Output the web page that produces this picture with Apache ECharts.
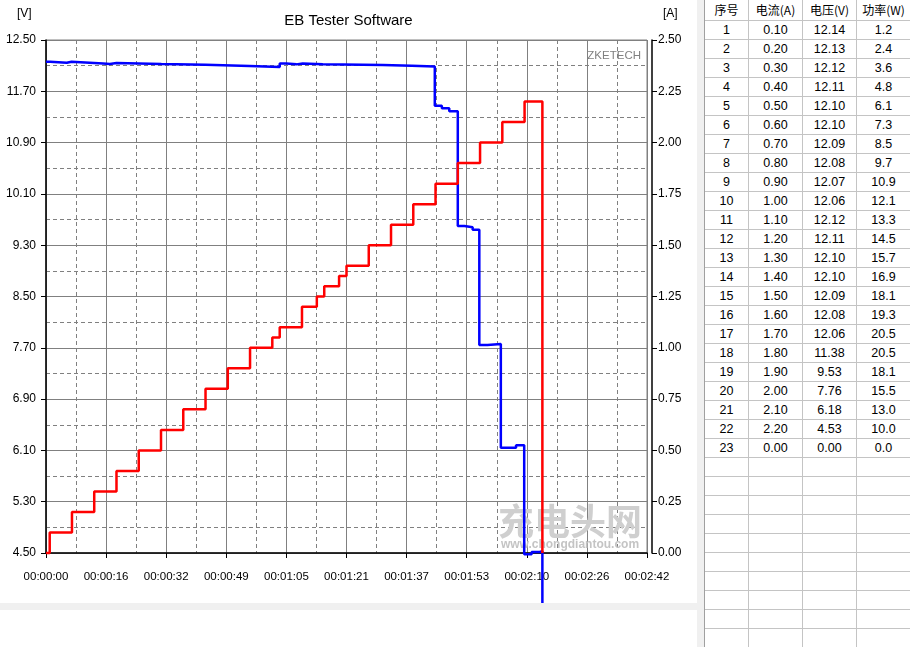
<!DOCTYPE html>
<html>
<head>
<meta charset="utf-8">
<script src="https://cdn.jsdelivr.net/npm/echarts@6/dist/echarts.min.js"></script>
<style>
html,body{margin:0;padding:0;background:#fff;width:910px;height:647px;overflow:hidden;}
#chart{position:absolute;left:0;top:0;width:697px;height:603px;}
#hband{position:absolute;left:0;top:603px;width:697px;height:7px;background:#f0f0f0;}
#vband{position:absolute;left:697px;top:0;width:7px;height:647px;background:#f0f0f0;}
#tbl{position:absolute;left:704px;top:0;width:206px;height:647px;border-left:1px solid #a0a0a0;overflow:hidden;background:#fff;}
.row{display:flex;height:19px;box-sizing:border-box;border-bottom:1px solid #c4c4c4;}
.row.h{height:21px;}
.c{box-sizing:border-box;border-right:1px solid #c4c4c4;text-align:center;font-family:'Liberation Sans',Arial,sans-serif;font-size:12.5px;line-height:18px;color:#000;overflow:hidden;white-space:nowrap;}
.row.h .c{line-height:20px;font-family:'Noto Sans CJK SC','Liberation Sans',sans-serif;font-size:12px;}
.c0{width:44px;}.c1{width:54px;}.c2{width:54px;}.c3{width:54px;}
</style>
</head>
<body>
<div id="chart"></div>
<div id="hband"></div>
<div id="vband"></div>
<div id="tbl"></div>
<script>
// ---- chart data ----
const timeTickLabels = ['00:00:00','00:00:16','00:00:32','00:00:49','00:01:05','00:01:21','00:01:37','00:01:53','00:02:10','00:02:26','00:02:42'];
const timeV = [0, 1.1, 5.6, 6.9, 15.4, 17.2, 19, 31.1, 43, 54.9, 63, 64.8, 67.5, 69.2, 74.6, 90.8, 98.6, 104.8, 106.7, 108.7, 111, 112.8, 115, 116.8, 119, 122.6, 126.7, 128.9, 130.9, 133.1, 133.8];
const volts = [12.16, 12.145, 12.16, 12.135, 12.125, 12.14, 12.125, 12.115, 12.095, 12.08, 12.135, 12.12, 12.135, 12.12, 12.11, 12.10, 12.085, 11.475, 11.435, 11.39, 9.60, 9.58, 9.54, 7.745, 7.76, 6.14, 6.18, 4.48, 4.515, 4.53, 0];
const timeA = [0, 1, 7, 13, 19, 25, 31, 37, 43, 49, 55, 61, 63, 69, 73, 75, 79, 81, 87, 93, 99, 105, 111, 117, 123, 129, 133.8];
const amps = [0, 0.1, 0.2, 0.3, 0.4, 0.5, 0.6, 0.7, 0.8, 0.9, 1.0, 1.05, 1.1, 1.2, 1.25, 1.3, 1.35, 1.4, 1.5, 1.6, 1.7, 1.8, 1.9, 2.0, 2.1, 2.2, 0];

// ---- table data ----
const tblHeader = ['序号','电流(A)','电压(V)','功率(W)'];
const tblSeq = [1,2,3,4,5,6,7,8,9,10,11,12,13,14,15,16,17,18,19,20,21,22,23];
const tblCurrent = [0.10,0.20,0.30,0.40,0.50,0.60,0.70,0.80,0.90,1.00,1.10,1.20,1.30,1.40,1.50,1.60,1.70,1.80,1.90,2.00,2.10,2.20,0.00];
const tblVoltage = [12.14,12.13,12.12,12.11,12.10,12.10,12.09,12.08,12.07,12.06,12.12,12.11,12.10,12.10,12.09,12.08,12.06,11.38,9.53,7.76,6.18,4.53,0.00];
const tblPower = [1.2,2.4,3.6,4.8,6.1,7.3,8.5,9.7,10.9,12.1,13.3,14.5,15.7,16.9,18.1,19.3,20.5,20.5,18.1,15.5,13.0,10.0,0.0];
const totalRows = 33;

// build table
(function(){
  const t = document.getElementById('tbl');
  let html = '<div class="row h">' + tblHeader.map((h,i)=>'<div class="c c'+i+'">'+h+'</div>').join('') + '</div>';
  for (let r = 0; r < totalRows; r++) {
    let cells;
    if (r < tblSeq.length) {
      cells = [String(tblSeq[r]), tblCurrent[r].toFixed(2), tblVoltage[r].toFixed(2), tblPower[r].toFixed(1)];
    } else cells = ['','','',''];
    html += '<div class="row">' + cells.map((v,i)=>'<div class="c c'+i+'">'+v+'</div>').join('') + '</div>';
  }
  t.innerHTML = html;
})();

const FONT = "'Liberation Sans',Arial,sans-serif";
const GRID = '#808080';

const chart = echarts.init(document.getElementById('chart'), null, {renderer:'canvas'});
chart.setOption({
  animation: false,
  backgroundColor: '#fff',
  title: {
    text: 'EB Tester Software', left: 'center', top: 8,
    textStyle: {fontFamily: FONT, fontSize: 15, fontWeight: 'normal', color: '#000'}
  },
  grid: {left: 46, top: 40, width: 601, height: 513, show: true, borderColor: GRID, borderWidth: 1, containLabel: false, outerBoundsMode: 'none'},
  xAxis: {
    type: 'value', min: 0, max: 162, interval: 16.2, offset: 5,
    axisLine: {show: true, lineStyle: {color: '#000', width: 1.5}},
    axisTick: {show: true, length: 5, lineStyle: {color: '#000', width: 1}},
    axisLabel: {color: '#000', fontSize: 11.5, fontFamily: FONT, margin: 13,
      formatter: v => timeTickLabels[Math.round(v / 16.2)] || ''},
    splitLine: {show: true, lineStyle: {color: GRID, width: 1}},
    minorTick: {show: false, splitNumber: 2},
    minorSplitLine: {show: true, lineStyle: {color: GRID, width: 1, type: [4, 3]}}
  },
  yAxis: [
    {
      type: 'value', position: 'left', min: 4.5, max: 12.5, alignTicks: true, offset: 5,
      axisLine: {show: true, lineStyle: {color: '#000', width: 1.5}},
      axisTick: {show: true, length: 5, lineStyle: {color: '#000', width: 1}},
      axisLabel: {color: '#000', fontSize: 12, fontFamily: FONT, margin: 5, formatter: v => v.toFixed(2)},
      splitLine: {show: true, lineStyle: {color: GRID, width: 1}},
      minorTick: {show: false, splitNumber: 2},
      minorSplitLine: {show: true, lineStyle: {color: GRID, width: 1, type: [4, 3]}}
    },
    {
      type: 'value', position: 'right', min: 0, max: 2.5, interval: 0.25, offset: 5,
      axisLine: {show: true, lineStyle: {color: '#000', width: 1.5}},
      axisTick: {show: true, length: 5, lineStyle: {color: '#000', width: 1}},
      axisLabel: {color: '#000', fontSize: 12, fontFamily: FONT, margin: 6, formatter: v => v.toFixed(2)},
      splitLine: {show: false}
    }
  ],
  graphic: [
    {type: 'text', left: 17, top: 8, z: 10, style: {text: '[V]', font: "12px 'Liberation Sans',Arial,sans-serif", fill: '#000'}},
    {type: 'text', left: 663, top: 8, z: 10, style: {text: '[A]', font: "12px 'Liberation Sans',Arial,sans-serif", fill: '#000'}},
    {type: 'text', x: 641, y: 56, z: 10, style: {text: 'ZKETECH', font: "11.5px 'Liberation Sans',Arial,sans-serif", fill: '#808080', align: 'right', verticalAlign: 'middle'}},
    {type: 'text', x: 570, y: 521, z: 1, style: {text: '充电头网', font: "bold 36px 'Noto Sans CJK SC',sans-serif", fill: '#cfcfcf', align: 'center', verticalAlign: 'middle'}},
    {type: 'text', x: 570, y: 545, z: 1, style: {text: 'www.chongdiantou.com', font: "bold 12px 'Liberation Sans',Arial,sans-serif", fill: '#c4c4c4', align: 'center', verticalAlign: 'middle'}}
  ],
  series: [
    {
      type: 'line', name: 'Voltage', yAxisIndex: 0, step: 'end', symbol: 'none', showSymbol: false, clip: false, z: 3,
      data: timeV.map((t, i) => [t, volts[i]]),
      lineStyle: {color: '#0000ff', width: 2.5}
    },
    {
      type: 'line', name: 'Current', yAxisIndex: 1, step: 'end', symbol: 'none', showSymbol: false, clip: false, z: 4,
      data: timeA.map((t, i) => [t, amps[i]]),
      lineStyle: {color: '#ff0000', width: 2.5}
    }
  ]
});
</script>
</body>
</html>
